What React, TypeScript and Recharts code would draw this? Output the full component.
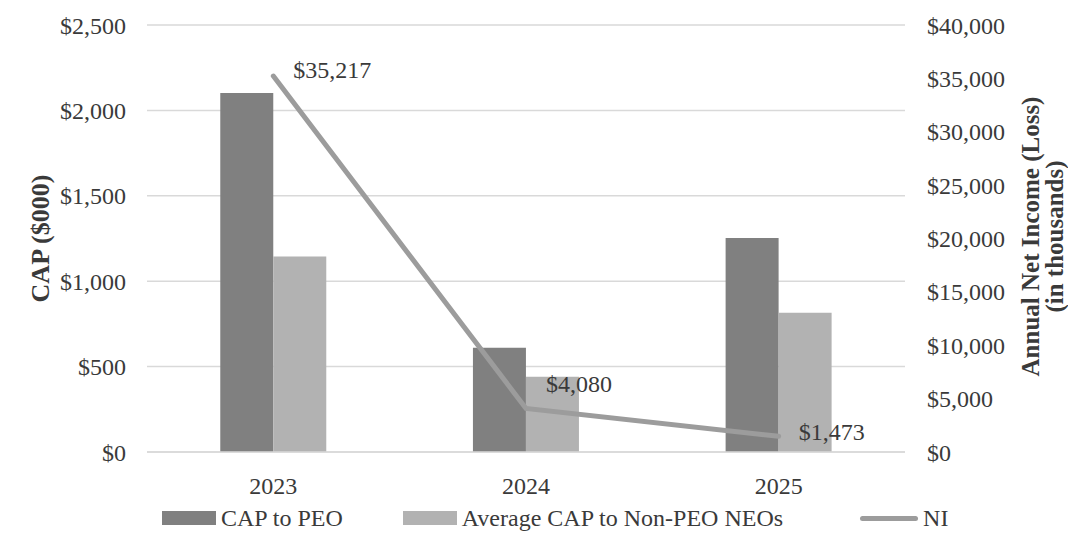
import React from "react";
import {
  Bar,
  CartesianGrid,
  ComposedChart,
  Label,
  LabelList,
  Legend,
  Line,
  XAxis,
  YAxis,
} from "recharts";

const years = ["2023", "2024", "2025"];
const capToPeo = [2102, 610, 1253];
const avgCapNonPeo = [1144, 440, 815];
const netIncome = [35217, 4080, 1473];
const capTicks = [0, 500, 1000, 1500, 2000, 2500];
const niTicks = [0, 5000, 10000, 15000, 20000, 25000, 30000, 35000, 40000];

const data = years.map((year, i) => ({
  year,
  peo: capToPeo[i],
  nonPeo: avgCapNonPeo[i],
  ni: netIncome[i],
}));

const FONT = '"Liberation Serif", "Times New Roman", serif';
const TEXT = "#3a3a3a";
const DARK = "#808080";
const LIGHT = "#b2b2b2";
const LINE = "#9c9c9c";
const GRID = "#d9d9d9";

const money = (v: number) => "$" + v.toLocaleString("en-US");

// how far each NI label sits above its point
const labelLift = [6, 24, 4];

function NiLabel(props: any) {
  const { x, y, value, index } = props;
  return (
    <text
      x={x + 20}
      y={y - labelLift[index]}
      fill={TEXT}
      fontSize={24}
      fontFamily={FONT}
      dominantBaseline="central"
    >
      {money(value)}
    </text>
  );
}

function LeftTitle(props: any) {
  const { viewBox } = props;
  const cx = viewBox.x - 7;
  const cy = viewBox.y + viewBox.height / 2;
  return (
    <text
      transform={`translate(${cx},${cy}) rotate(-90)`}
      textAnchor="middle"
      dominantBaseline="central"
      fontSize={26}
      fontWeight="bold"
      fontFamily={FONT}
      fill={TEXT}
    >
      CAP ($000)
    </text>
  );
}

function RightTitle(props: any) {
  const { viewBox } = props;
  const cx = viewBox.x + 137;
  const cy = viewBox.y + viewBox.height / 2 - 2;
  return (
    <g transform={`translate(${cx},${cy}) rotate(-90)`}>
      <text
        textAnchor="middle"
        dominantBaseline="central"
        fontSize={25}
        fontWeight="bold"
        fontFamily={FONT}
        fill={TEXT}
      >
        <tspan x={0} y={-12}>
          Annual Net Income (Loss)
        </tspan>
        <tspan x={0} y={12}>
          (in thousands)
        </tspan>
      </text>
    </g>
  );
}

function LegendRow() {
  const item = (marker: React.ReactNode, text: string, gapAfter: number) => (
    <div style={{ display: "flex", alignItems: "center", marginRight: gapAfter }}>
      {marker}
      <span style={{ marginLeft: 5 }}>{text}</span>
    </div>
  );
  return (
    <div
      style={{
        display: "flex",
        alignItems: "center",
        height: 30,
        paddingLeft: 162,
        fontFamily: FONT,
        fontSize: 24,
        color: TEXT,
        whiteSpace: "nowrap",
      }}
    >
      {item(<div style={{ width: 54, height: 14, background: DARK }} />, "CAP to PEO", 60)}
      {item(
        <div style={{ width: 54, height: 14, background: LIGHT }} />,
        "Average CAP to Non-PEO NEOs",
        77
      )}
      {item(
        <div style={{ width: 58, height: 5, borderRadius: 3, background: LINE }} />,
        "NI",
        0
      )}
    </div>
  );
}

export default function App() {
  return (
    <div style={{ position: "absolute", left: 0, top: 0, width: 1068, height: 533, background: "#fff" }}>
      <ComposedChart
        width={1068}
        height={533}
        data={data}
        margin={{ top: 25, right: 0, bottom: 0, left: 47 }}
        barCategoryGap="29%"
        barGap={0}
      >
        <CartesianGrid vertical={false} stroke={GRID} strokeWidth={1.5} yAxisId="cap" />
        <XAxis
          dataKey="year"
          height={51}
          tickLine={false}
          axisLine={{ stroke: GRID, strokeWidth: 1.5 }}
          tickMargin={19}
          tick={{ fill: TEXT, fontSize: 24, fontFamily: FONT }}
        />
        <YAxis
          yAxisId="cap"
          width={100}
          domain={[0, 2500]}
          ticks={capTicks}
          tickFormatter={money}
          axisLine={false}
          tickLine={false}
          tickMargin={15}
          tick={{ fill: TEXT, fontSize: 24, fontFamily: FONT }}
        >
          <Label content={LeftTitle} />
        </YAxis>
        <YAxis
          yAxisId="ni"
          orientation="right"
          width={163}
          domain={[0, 40000]}
          ticks={niTicks}
          tickFormatter={money}
          axisLine={false}
          tickLine={false}
          tickMargin={16}
          tick={{ fill: TEXT, fontSize: 24, fontFamily: FONT, textAnchor: "start" }}
        >
          <Label content={RightTitle} />
        </YAxis>
        <Legend
          verticalAlign="bottom"
          content={LegendRow}
          wrapperStyle={{ left: 0, width: 1068, bottom: 0 }}
        />
        <Bar yAxisId="cap" dataKey="peo" name="CAP to PEO" fill={DARK} isAnimationActive={false} />
        <Bar
          yAxisId="cap"
          dataKey="nonPeo"
          name="Average CAP to Non-PEO NEOs"
          fill={LIGHT}
          isAnimationActive={false}
        />
        <Line
          yAxisId="ni"
          type="linear"
          dataKey="ni"
          name="NI"
          stroke={LINE}
          strokeWidth={5}
          strokeLinecap="round"
          dot={false}
          activeDot={false}
          isAnimationActive={false}
        >
          <LabelList dataKey="ni" content={NiLabel} />
        </Line>
      </ComposedChart>
    </div>
  );
}
